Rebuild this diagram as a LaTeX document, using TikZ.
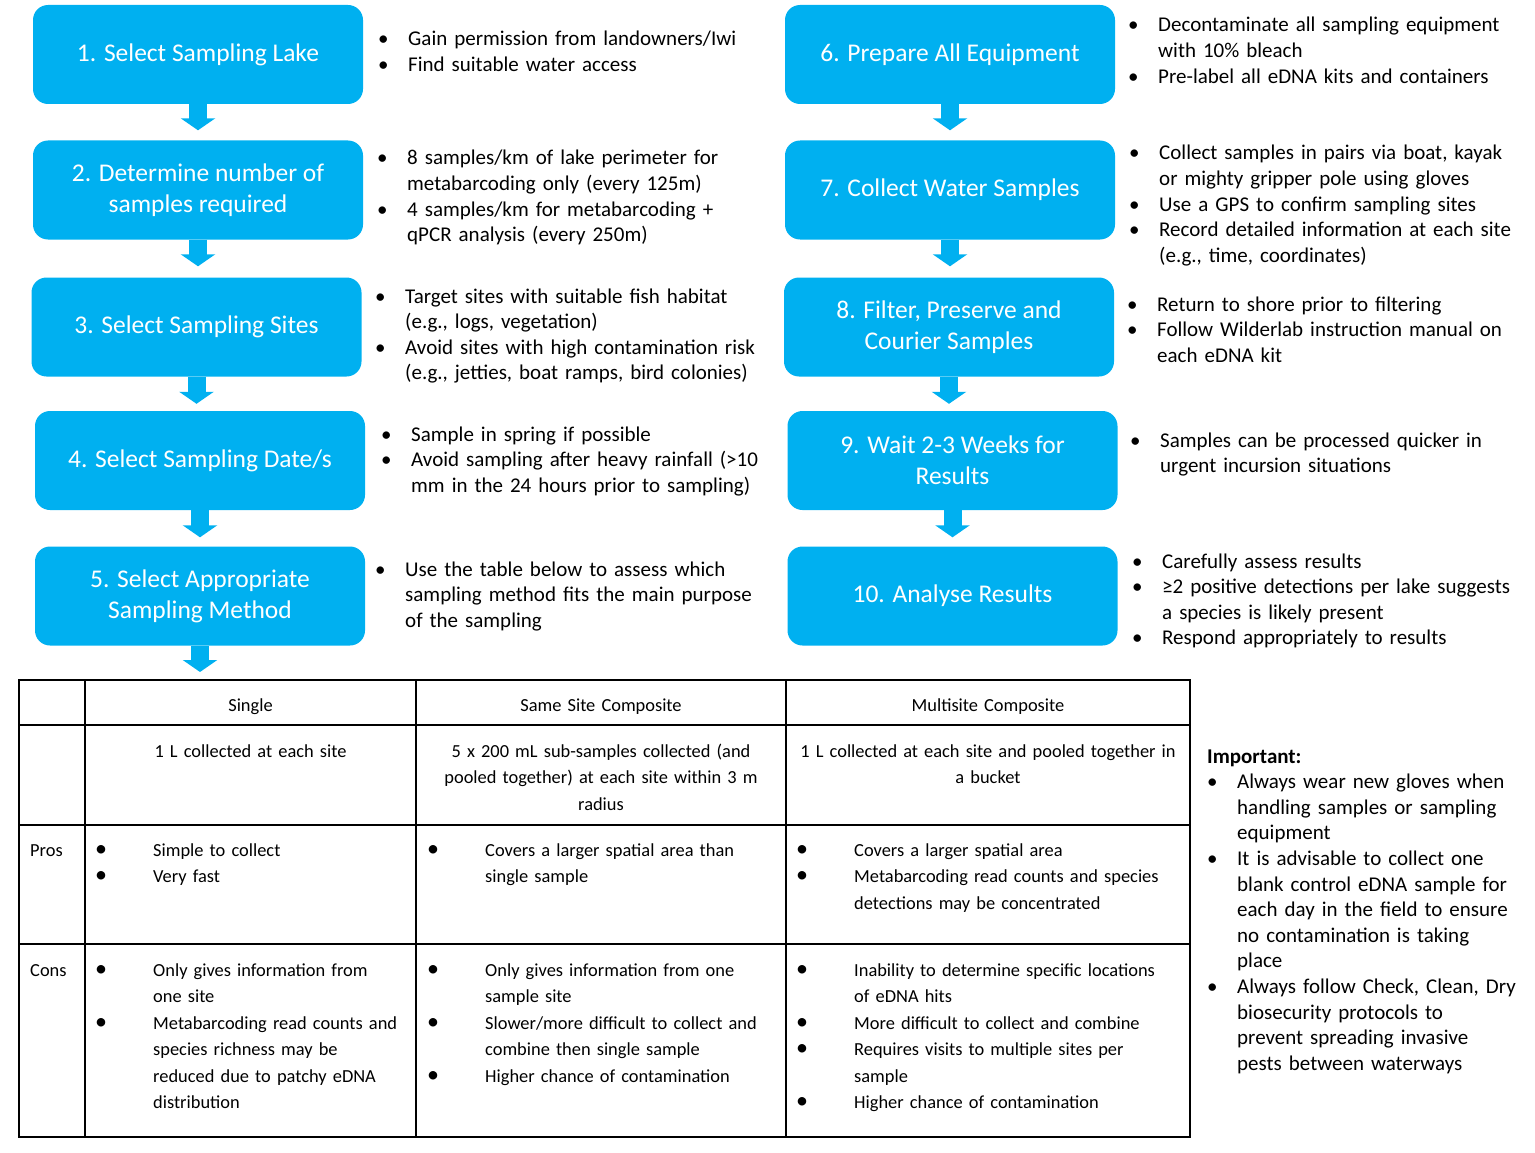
\documentclass[tikz,border=0pt]{standalone}
\usepackage{fontspec}
\setmainfont{Carlito}
\usetikzlibrary{arrows.meta}
\definecolor{stepblue}{HTML}{00B0F0}
% bullet lines and continuation lines
\newcommand\bl[1]{\makebox[30pt][l]{\textbullet}#1\par}
\newcommand\cl[1]{\hspace*{30pt}#1\par}
\newcommand\tbl[1]{\makebox[58pt][l]{\fontsize{24}{24}\selectfont\textbullet}#1\par}
\newcommand\tcl[1]{\hspace*{58pt}#1\par}
\tikzset{
  stepbox/.style={rectangle, rounded corners=15pt, fill=stepblue, text=white,
    minimum width=330pt, minimum height=99pt, align=center, inner sep=4pt,
    font=\fontsize{25.5}{31}\selectfont},
  notes/.style={anchor=base west, inner sep=0pt, text width=420pt, align=left,
    font=\fontsize{21}{25.6}\selectfont},
  impnotes/.style={notes, text width=400pt},
  flow/.style={draw=stepblue, line width=18pt, -{Triangle[width=34pt,length=12pt]}},
  tabcell/.style={inner sep=0pt, font=\fontsize{18.4}{26.5}\selectfont},
  tabmid/.style={tabcell, anchor=base, text width=400pt, align=center},
  tablist/.style={tabcell, anchor=base west, text width=400pt, align=left},
  grid/.style={line width=2pt}
}
\begin{document}
\begin{tikzpicture}[x=1pt,y=-1pt]
\useasboundingbox (0,0) rectangle (1535,1153);
% steps
\node[stepbox] (s1) at (198,54.5) {1. Select Sampling Lake};
\node[stepbox] (s2) at (198,190) {2. Determine number of\\samples required};
\node[stepbox] (s3) at (196.5,327) {3. Select Sampling Sites};
\node[stepbox] (s4) at (200,460.5) {4. Select Sampling Date/s};
\node[stepbox] (s5) at (200,596) {5. Select Appropriate\\Sampling Method};
\node[stepbox] (s6) at (950,54.5) {6. Prepare All Equipment};
\node[stepbox] (s7) at (950,190) {7. Collect Water Samples};
\node[stepbox] (s8) at (949,327) {8. Filter, Preserve and\\Courier Samples};
\node[stepbox] (s9) at (952.5,460.5) {9. Wait 2-3 Weeks for\\Results};
\node[stepbox] (s10) at (952.5,596) {10. Analyse Results};
\coordinate (tabtop) at (200,680);
\foreach \a/\b/\g in {s1/s2/10,s2/s3/11,s3/s4/7,s4/s5/9,s5/tabtop/8,
                      s6/s7/10,s7/s8/11,s8/s9/7,s9/s10/9}
  \draw[flow, shorten >=\g pt] (\a.south) -- (\a.south |- \b.north);
% notes beside the steps
\node[notes] (n1) at (378,46) {\bl{Gain permission from landowners/Iwi}\bl{Find suitable water access}};
\node[notes] (n2) at (377,165) {\bl{8 samples/km of lake perimeter for}\cl{metabarcoding only (every 125m)}\bl{4 samples/km for metabarcoding +}\cl{qPCR analysis (every 250m)}};
\node[notes] (n3) at (375,303) {\bl{Target sites with suitable fish habitat}\cl{(e.g., logs, vegetation)}\bl{Avoid sites with high contamination risk}\cl{(e.g., jetties, boat ramps, bird colonies)}};
\node[notes] (n4) at (381,441) {\bl{Sample in spring if possible}\bl{Avoid sampling after heavy rainfall (>10}\cl{mm in the 24 hours prior to sampling)}};
\node[notes] (n5) at (375,576) {\bl{Use the table below to assess which}\cl{sampling method fits the main purpose}\cl{of the sampling}};
\node[notes] (n6) at (1128,32) {\bl{Decontaminate all sampling equipment}\cl{with 10\% bleach}\bl{Pre-label all eDNA kits and containers}};
\node[notes] (n7) at (1129,160) {\bl{Collect samples in pairs via boat, kayak}\cl{or mighty gripper pole using gloves}\bl{Use a GPS to confirm sampling sites}\bl{Record detailed information at each site}\cl{(e.g., time, coordinates)}};
\node[notes] (n8) at (1127,311) {\bl{Return to shore prior to filtering}\bl{Follow Wilderlab instruction manual on}\cl{each eDNA kit}};
\node[notes] (n9) at (1130,447) {\bl{Samples can be processed quicker in}\cl{urgent incursion situations}};
\node[notes] (n10) at (1132,568) {\bl{Carefully assess results}\bl{≥2 positive detections per lake suggests}\cl{a species is likely present}\bl{Respond appropriately to results}};
% table of sampling methods
\draw[grid] (19,680) rectangle (1190,1137);
\foreach \x in {85,416,786} \draw[grid] (\x,680) -- (\x,1137);
\foreach \y in {725,825,944} \draw[grid] (19,\y) -- (1190,\y);
\node[tabmid] (h1) at (250.5,711) {Single};
\node[tabmid] (h2) at (601,711) {Same Site Composite};
\node[tabmid] (h3) at (988,711) {Multisite Composite};
\node[tabmid] (d1) at (250.5,757) {1 L collected at each site};
\node[tabmid] (d2) at (601,757) {5 x 200 mL sub-samples collected (and\\pooled together) at each site within 3 m\\radius};
\node[tabmid] (d3) at (988,757) {1 L collected at each site and pooled together in\\a bucket};
\node[tablist] (pros) at (30,856) {Pros};
\node[tablist] (cons) at (30,976) {Cons};
\node[tablist] (p1) at (95,856) {\tbl{Simple to collect}\tbl{Very fast}};
\node[tablist] (p2) at (427,856) {\tbl{Covers a larger spatial area than}\tcl{single sample}};
\node[tablist] (p3) at (796,856) {\tbl{Covers a larger spatial area}\tbl{Metabarcoding read counts and species}\tcl{detections may be concentrated}};
\node[tablist] (c1) at (95,976) {\tbl{Only gives information from}\tcl{one site}\tbl{Metabarcoding read counts and}\tcl{species richness may be}\tcl{reduced due to patchy eDNA}\tcl{distribution}};
\node[tablist] (c2) at (427,976) {\tbl{Only gives information from one}\tcl{sample site}\tbl{Slower/more difficult to collect and}\tcl{combine then single sample}\tbl{Higher chance of contamination}};
\node[tablist] (c3) at (796,976) {\tbl{Inability to determine specific locations}\tcl{of eDNA hits}\tbl{More difficult to collect and combine}\tbl{Requires visits to multiple sites per}\tcl{sample}\tbl{Higher chance of contamination}};
% important notes
\node[impnotes] (imp) at (1207,763) {\textbf{Important:}\par\bl{Always wear new gloves when}\cl{handling samples or sampling}\cl{equipment}\bl{It is advisable to collect one}\cl{blank control eDNA sample for}\cl{each day in the field to ensure}\cl{no contamination is taking}\cl{place}\bl{Always follow Check, Clean, Dry}\cl{biosecurity protocols to}\cl{prevent spreading invasive}\cl{pests between waterways}};
\end{tikzpicture}
\end{document}
